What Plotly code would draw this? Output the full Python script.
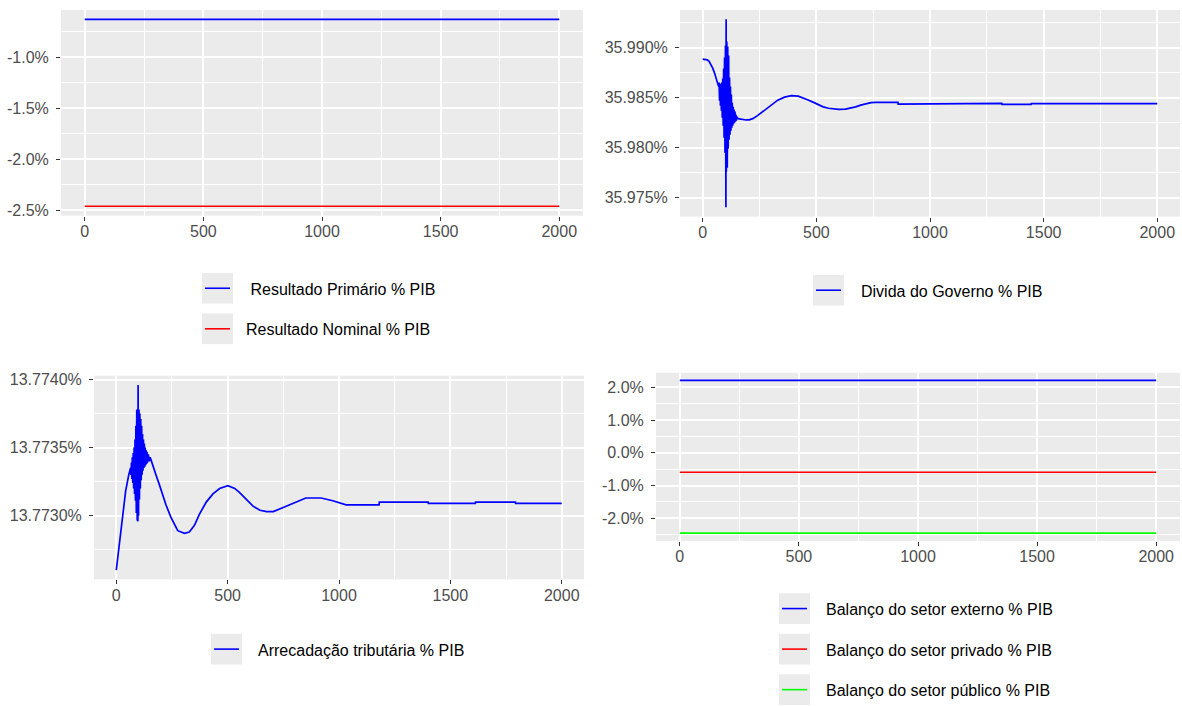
import plotly.graph_objects as go

W, H = 1182, 706

# ---------------- data ----------------
steps = [0, 2000]
primario = [-0.630, -0.630]
nominal = [-2.461, -2.461]
externo = [2.215, 2.215]
privado = [-0.595, -0.595]
publico = [-2.460, -2.460]

divida_t = [0, 10, 20, 28, 36, 44, 52, 60, 66, 70,
            72, 74, 76, 78, 80, 82, 84, 86, 88, 90,
            92, 94, 96, 98, 100, 102, 103, 104, 106, 108,
            110, 112, 114, 116, 118, 120, 122, 124, 126, 128,
            130, 132, 134, 136, 138, 140, 142, 144, 146, 148,
            150, 156, 165, 175, 190, 204, 220, 241, 270, 300,
            330, 360, 390, 420, 445, 464, 490, 509, 530, 553,
            575, 598, 628, 650, 673, 695, 717, 740, 762, 800,
            859, 860, 1083, 1084, 1316, 1317, 1445, 1446, 2000]
divida_v = [35.98885, 35.98884, 35.98878, 35.98862, 35.98835, 35.98795, 35.98745, 35.98690, 35.98640, 35.98610,
            35.98650, 35.98470, 35.98640, 35.98420, 35.98620, 35.98370, 35.98650, 35.98300, 35.98690, 35.98220,
            35.98790, 35.98100, 35.98900, 35.97950, 35.99020, 35.97406, 35.99282, 35.97760, 35.99060, 35.97800,
            35.99010, 35.97990, 35.98920, 35.98080, 35.98700, 35.98130, 35.98610, 35.98170, 35.98530, 35.98200,
            35.98450, 35.98220, 35.98410, 35.98240, 35.98380, 35.98250, 35.98360, 35.98260, 35.98330, 35.98270,
            35.98310, 35.98290, 35.98285, 35.98280, 35.98277, 35.98278, 35.98290, 35.98320, 35.98370, 35.98425,
            35.98475, 35.98505, 35.98520, 35.98515, 35.98495, 35.98477, 35.98450, 35.98427, 35.98408, 35.98394,
            35.98386, 35.98383, 35.98385, 35.98393, 35.98408, 35.98425, 35.98440, 35.98450, 35.98453, 35.98453,
            35.98453, 35.98436, 35.98436, 35.98442, 35.98442, 35.98432, 35.98432, 35.98440, 35.98440]

arrec_t = [0, 14, 28, 42, 56, 64, 66, 68, 70, 72,
           74, 76, 78, 80, 82, 84, 86, 88, 90, 92,
           94, 96, 97, 98, 100, 102, 104, 106, 108, 110,
           112, 114, 116, 118, 120, 122, 124, 126, 128, 130,
           132, 134, 136, 138, 140, 144, 148, 152, 156, 163,
           178, 193, 208, 223, 245, 276, 306, 328, 351, 373,
           404, 434, 464, 501, 532, 554, 584, 614, 645, 675,
           705, 735, 780, 810, 851, 920, 972, 1032, 1100, 1180,
           1181, 1400, 1401, 1612, 1613, 1792, 1793, 2000]
arrec_v = [13.77260, 13.77280, 13.77300, 13.77318, 13.77330, 13.77335, 13.77330, 13.77339, 13.77327, 13.77343,
           13.77324, 13.77346, 13.77320, 13.77350, 13.77316, 13.77356, 13.77311, 13.77366, 13.77302, 13.77378,
           13.77297, 13.77380, 13.77296, 13.77396, 13.77300, 13.77378, 13.77312, 13.77375, 13.77320, 13.77371,
           13.77326, 13.77366, 13.77330, 13.77360, 13.77333, 13.77356, 13.77335, 13.77353, 13.77336, 13.77350,
           13.77337, 13.77348, 13.77338, 13.77347, 13.77339, 13.77345, 13.77340, 13.77343, 13.77341, 13.77337,
           13.77330, 13.77323, 13.77315, 13.77308, 13.77299, 13.77289, 13.77287, 13.77288, 13.77293, 13.77301,
           13.77310, 13.77316, 13.77320, 13.77322, 13.77320, 13.77317, 13.77312, 13.77307, 13.77304, 13.77303,
           13.77303, 13.77305, 13.77308, 13.77310, 13.77313, 13.77313, 13.77311, 13.77308, 13.77308, 13.77308,
           13.77310, 13.77310, 13.77309, 13.77309, 13.77310, 13.77310, 13.77309, 13.77309]

x_ticks = [0, 500, 1000, 1500, 2000]
x_labels = ["0", "500", "1000", "1500", "2000"]
tl_ticks = [-2.5, -2.0, -1.5, -1.0]
tl_labels = ["-2.5%", "-2.0%", "-1.5%", "-1.0%"]
tr_ticks = [35.975, 35.980, 35.985, 35.990]
tr_labels = ["35.975%", "35.980%", "35.985%", "35.990%"]
bl_ticks = [13.7730, 13.7735, 13.7740]
bl_labels = ["13.7730%", "13.7735%", "13.7740%"]
br_ticks = [-2.0, -1.0, 0.0, 1.0, 2.0]
br_labels = ["-2.0%", "-1.0%", "0.0%", "1.0%", "2.0%"]

tl_names = [" Resultado Primário % PIB", "Resultado Nominal % PIB"]
tr_names = ["Divida do Governo % PIB"]
bl_names = ["Arrecadação tributária % PIB"]
br_names = ["Balanço do setor externo % PIB", "Balanço do setor privado % PIB",
            "Balanço do setor público % PIB"]

BLUE, RED, GREEN = "#0000FF", "#FF0000", "#00FF00"
FONT = "Liberation Sans, Arial, sans-serif"
PANEL = "#EBEBEB"


def px_x(p):
    return p / W


def px_y(p):
    return 1 - p / H


def padded(*series):
    vals = [v for s in series for v in s]
    lo, hi = min(vals), max(vals)
    span = hi - lo
    return [lo - 0.05 * span, hi + 0.05 * span]


fig = go.Figure()

panels = [
    # (axis suffix, box px (l, t, r, b), series list, ticks, labels, minor dtick)
    ("", (61, 5, 583, 213), [(steps, primario, BLUE), (steps, nominal, RED)], tl_ticks, tl_labels, 0.25),
    ("2", (680, 5, 1180, 214), [(divida_t, divida_v, BLUE)], tr_ticks, tr_labels, 0.0025),
    ("3", (94, 375, 584, 581), [(arrec_t, arrec_v, BLUE)], bl_ticks, bl_labels, 0.00025),
    ("4", (656, 372, 1180, 542), [(steps, externo, BLUE), (steps, privado, RED), (steps, publico, GREEN)],
     br_ticks, br_labels, 0.5),
]

for suf, (l, t, r, b), series, yt, yl, ymin in panels:
    for xs, ys, col in series:
        fig.add_trace(go.Scatter(x=xs, y=ys, mode="lines", line=dict(color=col, width=1.7),
                                 xaxis="x" + suf, yaxis="y" + suf, showlegend=False,
                                 hoverinfo="skip"))
    xr = padded(*[s[0] for s in series])
    yr = padded(*[s[1] for s in series])
    common = dict(showgrid=True, gridcolor="white", gridwidth=1.8, zeroline=False, showline=False,
                  ticks="outside", ticklen=4, tickwidth=1, tickcolor="#333333",
                  tickfont=dict(family=FONT, size=16, color="#4D4D4D"), tickmode="array")
    fig.layout["xaxis" + suf] = dict(common, domain=[px_x(l), px_x(r)], range=xr,
                                     anchor="y" + suf, tickvals=x_ticks, ticktext=x_labels,
                                     minor=dict(dtick=250, tick0=0, showgrid=True, gridcolor="white",
                                                gridwidth=0.9, ticks=""),
                                     ticklabelstandoff=-3)
    fig.layout["yaxis" + suf] = dict(common, domain=[px_y(b), px_y(t)], range=yr,
                                     anchor="x" + suf, tickvals=yt, ticktext=yl,
                                     minor=dict(dtick=ymin, tick0=0, showgrid=True, gridcolor="white",
                                                gridwidth=0.9, ticks=""),
                                     ticklabelstandoff=4)

# ---------------- legends (ggplot style) ----------------
legends = [
    # (key left px, key top px of first, names, colours, text x px)
    (202, 271, tl_names, [BLUE, RED], 244),
    (813, 273, tr_names, [BLUE], 859),
    (211, 636, bl_names, [BLUE], 256),
    (779, 595, br_names, [BLUE, RED, GREEN], 824),
]
shapes = []
annotations = []
for kx, ky, names, cols, tx in legends:
    for i, (nm, col) in enumerate(zip(names, cols)):
        top = ky + i * 41
        shapes.append(dict(type="rect", xref="paper", yref="paper",
                           x0=px_x(kx), x1=px_x(kx + 31), y0=px_y(top + 31), y1=px_y(top),
                           fillcolor=PANEL, line=dict(width=0), layer="below"))
        shapes.append(dict(type="line", xref="paper", yref="paper",
                           x0=px_x(kx + 3), x1=px_x(kx + 28), y0=px_y(top + 15.5), y1=px_y(top + 15.5),
                           line=dict(color=col, width=1.6)))
        annotations.append(dict(text=nm, xref="paper", yref="paper", x=px_x(tx), y=px_y(top + 16.5),
                                xanchor="left", yanchor="middle", showarrow=False,
                                font=dict(family=FONT, size=16, color="#000000")))

fig.update_layout(
    width=W, height=H, margin=dict(l=0, r=0, t=0, b=0),
    paper_bgcolor="white", plot_bgcolor=PANEL,
    shapes=shapes, annotations=annotations, showlegend=False,
    font=dict(family=FONT),
)

fig.write_html("out.html")
